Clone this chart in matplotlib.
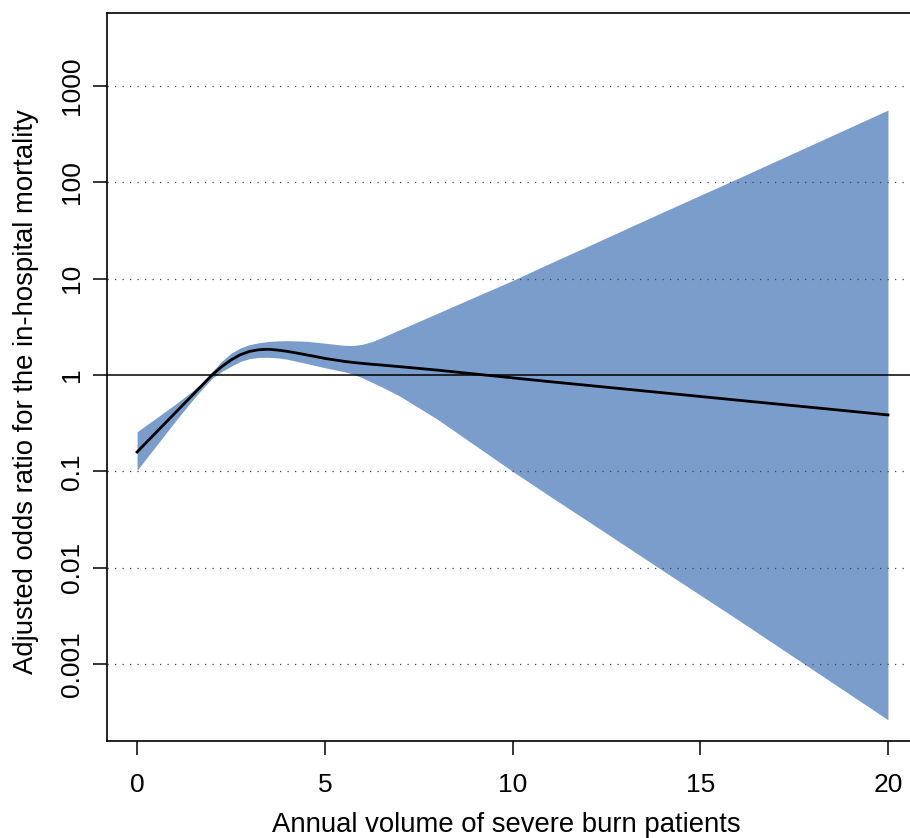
#!/usr/bin/env python3
import matplotlib
import numpy as np

matplotlib.use("Agg")
import matplotlib.pyplot as plt
from matplotlib.ticker import FixedLocator, NullLocator

# values, odds ratios given as log10
volume = [0, 0.5, 1, 1.5, 1.75, 2, 2.25, 2.5, 2.75, 3, 3.25, 3.5, 3.75, 4,
          4.5, 5, 5.5, 5.75, 6, 6.25, 6.5, 7, 7.5, 8, 8.5, 9, 9.5, 10,
          11, 12, 14, 16, 18, 20]
log_or = [-0.80, -0.60, -0.40, -0.20, -0.10, 0.00, 0.085, 0.155, 0.21, 0.245,
          0.262, 0.267, 0.258, 0.245, 0.21, 0.172, 0.142, 0.13, 0.12, 0.111,
          0.103, 0.086, 0.068, 0.050, 0.030, 0.010, -0.010, -0.030,
          -0.070, -0.108, -0.185, -0.262, -0.338, -0.415]
log_upper = [-0.59, -0.45, -0.31, -0.16, -0.07, 0.035, 0.14, 0.225, 0.28, 0.315,
             0.335, 0.348, 0.354, 0.356, 0.35, 0.33, 0.308, 0.305, 0.318, 0.345,
             0.385, 0.47, 0.555, 0.64, 0.725, 0.81, 0.895, 0.98,
             1.16, 1.335, 1.69, 2.04, 2.395, 2.75]
log_lower = [-0.99, -0.74, -0.49, -0.25, -0.14, -0.035, 0.035, 0.09, 0.14, 0.17,
             0.182, 0.183, 0.177, 0.163, 0.12, 0.075, 0.035, 0.01, -0.03, -0.075,
             -0.12, -0.22, -0.34, -0.46, -0.595, -0.73, -0.865, -1.0,
             -1.26, -1.515, -2.03, -2.54, -3.06, -3.58]

x_ticks = [0, 5, 10, 15, 20]
y_ticks = [0.001, 0.01, 0.1, 1, 10, 100, 1000]
y_tick_labels = ["0.001", "0.01", "0.1", "1", "10", "100", "1000"]

FILL = "#7A9DCB"

plt.rcParams["font.family"] = ["Liberation Sans", "DejaVu Sans"]

fig = plt.figure(figsize=(9.10, 8.38), dpi=100)
ax = fig.add_axes([0.1176, 0.1158, 0.8912, 0.8687])

x = np.array(volume)
ax.fill_between(x, np.power(10.0, log_lower), np.power(10.0, log_upper),
                color=FILL, linewidth=0, zorder=1)
for level in y_ticks:
    if level == 1:
        continue
    ax.axhline(level, color="#444444", linewidth=0.9, linestyle=(0, (1, 5)), zorder=2)
ax.axhline(1, color="black", linewidth=1.1, zorder=3)
ax.plot(x, np.power(10.0, log_or), color="black", linewidth=2.0, zorder=4,
        solid_joinstyle="round")

ax.set_yscale("log")
ax.set_xlim(-0.8, 20.8)
ax.set_ylim(10 ** -3.80, 10 ** 3.758)
ax.xaxis.set_major_locator(FixedLocator(x_ticks))
ax.set_xticklabels([str(t) for t in x_ticks])
ax.yaxis.set_major_locator(FixedLocator(y_ticks))
ax.yaxis.set_minor_locator(NullLocator())
ax.set_yticklabels(y_tick_labels, rotation=90, va="center")

for side in ("left", "bottom", "top", "right"):
    ax.spines[side].set_linewidth(1.2)
ax.tick_params(axis="both", direction="out", length=10, width=1.1, labelsize=19)
ax.tick_params(axis="x", pad=13)
ax.tick_params(axis="y", pad=6.5)

ax.set_xlabel("Annual volume of severe burn patients", fontsize=19.8, labelpad=11)
ax.set_ylabel("Adjusted odds ratio for the in-hospital mortality", fontsize=19.8, labelpad=15)
ax.xaxis.label.set_x(0.4926)
ax.yaxis.label.set_y(0.4794)

fig.savefig("out.png", dpi=100)
